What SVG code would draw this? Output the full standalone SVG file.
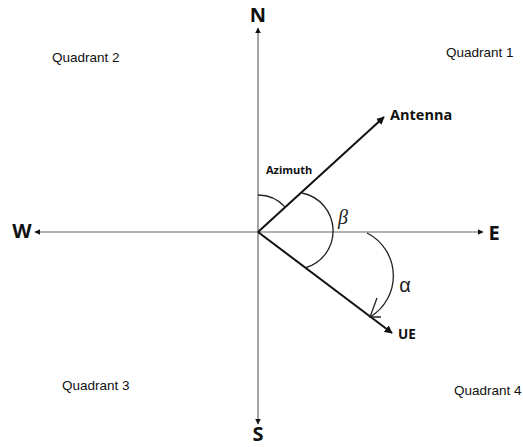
<svg xmlns="http://www.w3.org/2000/svg" width="523" height="447" viewBox="0 0 523 447">
<defs>
<style>
.axis{stroke:#666;stroke-width:1.2;fill:none}
.vec{stroke:#111;stroke-width:2;fill:none}
.arc{stroke:#222;stroke-width:1.3;fill:none}
.dir{font-family:"Open Sans","Liberation Sans",sans-serif;font-weight:bold;font-size:20px;fill:#111;text-anchor:middle}
.quad{font-family:"Liberation Sans",Arial,sans-serif;font-size:13.5px;fill:#111}
.lbl{font-family:"Open Sans","Liberation Sans",sans-serif;font-weight:bold;fill:#111}
</style>
<marker id="ah" viewBox="0 0 10 10" refX="9" refY="5" markerWidth="6" markerHeight="6" orient="auto" markerUnits="userSpaceOnUse">
<path d="M0,0 L10,5 L0,10 z" fill="#111"/>
</marker>
<marker id="ah2" viewBox="0 0 10 10" refX="9" refY="5" markerWidth="8" markerHeight="8" orient="auto" markerUnits="userSpaceOnUse">
<path d="M0,0 L10,5 L0,10 z" fill="#111"/>
</marker>
</defs>
<rect width="523" height="447" fill="#fff"/>
<g id="connectors">
<line class="axis" x1="258" y1="232" x2="258" y2="28" marker-end="url(#ah)"/>
<line class="axis" x1="258" y1="232" x2="258" y2="424" marker-end="url(#ah)"/>
<line class="axis" x1="258" y1="232" x2="35" y2="232" marker-end="url(#ah)"/>
<line class="axis" x1="258" y1="232" x2="483" y2="232" marker-end="url(#ah)"/>
<line class="vec" x1="258" y1="232" x2="384" y2="117" marker-end="url(#ah2)"/>
<line class="vec" x1="258" y1="232" x2="392" y2="333" marker-end="url(#ah2)"/>
<path class="arc" d="M258,195 A37,37 0 0 1 285.3,207.1"/>
<path class="arc" d="M302,193 A38.6,38.6 0 0 1 305,268"/>
<path class="arc" d="M367,233 A48,48 0 0 1 370,317"/>
<path class="arc" d="M377,298 L370,317 L381,317"/>
</g>
<g id="N"><text class="dir" x="258" y="22">N</text></g>
<g id="S"><text class="dir" x="258" y="441" font-size="19">S</text></g>
<g id="W"><text class="dir" x="22" y="238">W</text></g>
<g id="E"><text class="dir" x="494" y="240">E</text></g>
<g id="q1"><text class="quad" x="446" y="57">Quadrant 1</text></g>
<g id="q2"><text class="quad" x="52" y="62">Quadrant 2</text></g>
<g id="q3"><text class="quad" x="62" y="390">Quadrant 3</text></g>
<g id="q4"><text class="quad" x="454" y="395">Quadrant 4</text></g>
<g id="antenna"><text class="lbl" x="390" y="120" font-size="14.5">Antenna</text></g>
<g id="ue"><text class="lbl" x="398" y="339" font-size="13.5">UE</text></g>
<g id="azimuth"><text class="lbl" x="266" y="174" font-size="11">Azimuth</text></g>
<g id="beta"><text x="343" y="224" font-family="'Liberation Serif',serif" font-style="italic" font-size="20" fill="#222" text-anchor="middle">β</text></g>
<g id="alpha"><text x="405" y="292" font-family="'Liberation Sans',sans-serif" font-size="20" fill="#222" text-anchor="middle">α</text></g>
</svg>
